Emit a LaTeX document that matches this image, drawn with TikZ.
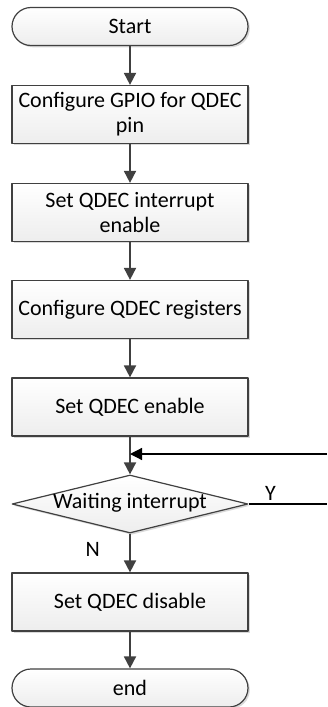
\documentclass[tikz,border=0pt]{standalone}
\usepackage{fontspec}
\setmainfont{Carlito}
\usetikzlibrary{arrows.meta,shapes.geometric,shadows}
\definecolor{edge}{HTML}{404040}
\tikzset{
  flowbox/.style={draw=edge,line width=1.2pt,top color=white,bottom color=gray!14,
    drop shadow={shadow xshift=1.8pt,shadow yshift=-1.8pt,fill=gray!50,opacity=0.6},
    minimum width=236pt,align=center,inner sep=0pt},
  procbox/.style={flowbox,rectangle,minimum height=58pt},
  termbox/.style={flowbox,rectangle,rounded corners=19pt,minimum height=38pt},
  decbox/.style={flowbox,diamond,aspect=4.07,minimum height=58pt,text height=11pt,text depth=3pt},
  flow/.style={-{Triangle[length=12pt,width=12pt]},draw=edge,line width=1.8pt},
}
\begin{document}
\begin{tikzpicture}[x=1pt,y=1pt,line join=round,font=\fontsize{22}{25}\selectfont]
\useasboundingbox (0,0) rectangle (327,-707);
% flow steps
\node[termbox] (start) at (130,-26.5) {Start};
\node[procbox] (gpio) at (130,-114.5) {Configure GPIO for QDEC\\pin};
\node[procbox] (irq) at (130,-212.5) {Set QDEC interrupt\\enable};
\node[procbox] (regs) at (130,-309.5) {Configure QDEC registers};
\node[procbox] (en) at (130,-407) {Set QDEC enable};
\node[decbox] (wait) at (130,-504) {Waiting interrupt};
\node[procbox] (dis) at (130,-602) {Set QDEC disable};
\node[termbox] (end) at (130,-688) {end};
% loose ends on the right
\coordinate (back) at (327,-454);
\coordinate (yes) at (327,-504);
% arrows
\draw[flow] (start) -- (gpio);
\draw[flow] (gpio) -- (irq);
\draw[flow] (irq) -- (regs);
\draw[flow] (regs) -- (en);
\draw[flow] (en) -- (wait);
\draw[flow] (wait) -- node[pos=0.4,left=26pt] {N} (dis);
\draw[flow] (dis) -- (end);
\draw[-{Triangle[length=12pt,width=12pt]},line width=1.2pt] (back) -- (back -| en.south);
\draw[line width=1.2pt] (wait.east) -- node[pos=0.28,above] {Y} (yes);
\end{tikzpicture}
\end{document}
